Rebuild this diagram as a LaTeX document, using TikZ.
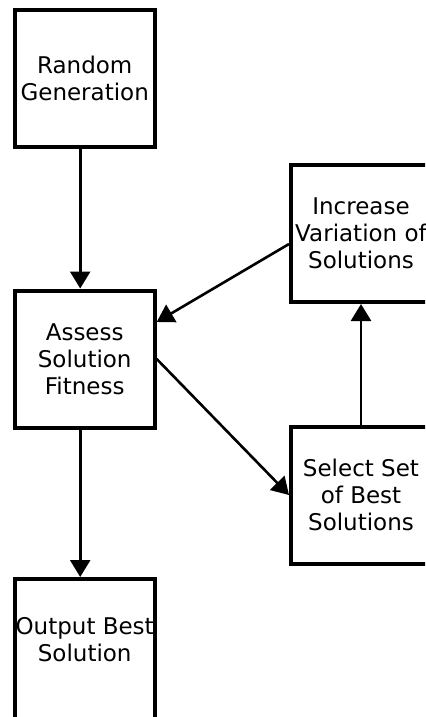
\documentclass[tikz,border=0pt]{standalone}
\usepackage{fontspec}
\setmainfont{DejaVu Sans}
\usepackage{tikz}
\usetikzlibrary{
  arrows.meta,
  positioning,
}

\begin{document}
\begin{tikzpicture}[
  x=0.5pt, y=-0.5pt,
  every node/.style={align=center},
  block/.style={draw=black, line width=2pt, inner sep=0pt,
                minimum width=70pt, minimum height=68.5pt,
                font=\fontsize{11.5}{13.5}\selectfont},
  arrow/.style={-{Triangle[length=8.5pt, width=10pt]}, line width=1.3pt},
]

\clip (0,0) rectangle (425,717);

\node[block] (gen) at (84.7,78.5)  {Random\\Generation};
\node[block] (fit) at (84.7,359)   {Assess\\Solution\\Fitness};
\node[block, minimum height=72pt, text depth=12pt] (out) at (84.7,651) {Output Best\\Solution};
\node[block] (inc) at (361,233.5)  {Increase\\Variation of\\Solutions};
\node[block] (sel) at (361,495)    {Select Set\\of Best\\Solutions};

\draw[arrow] ([xshift=-2.25pt]gen.south) -- ([xshift=-2.25pt]fit.north);
\draw[arrow] ([xshift=-2.25pt]fit.south) -- ([xshift=-2.25pt]out.north);
\draw[arrow] (fit.east) -- (sel.west);
\draw[arrow] (sel.north) -- (inc.south);
\draw[arrow] ([yshift=-5.25pt]inc.west) -- ([yshift=18.5pt]fit.east);

\end{tikzpicture}
\end{document}
